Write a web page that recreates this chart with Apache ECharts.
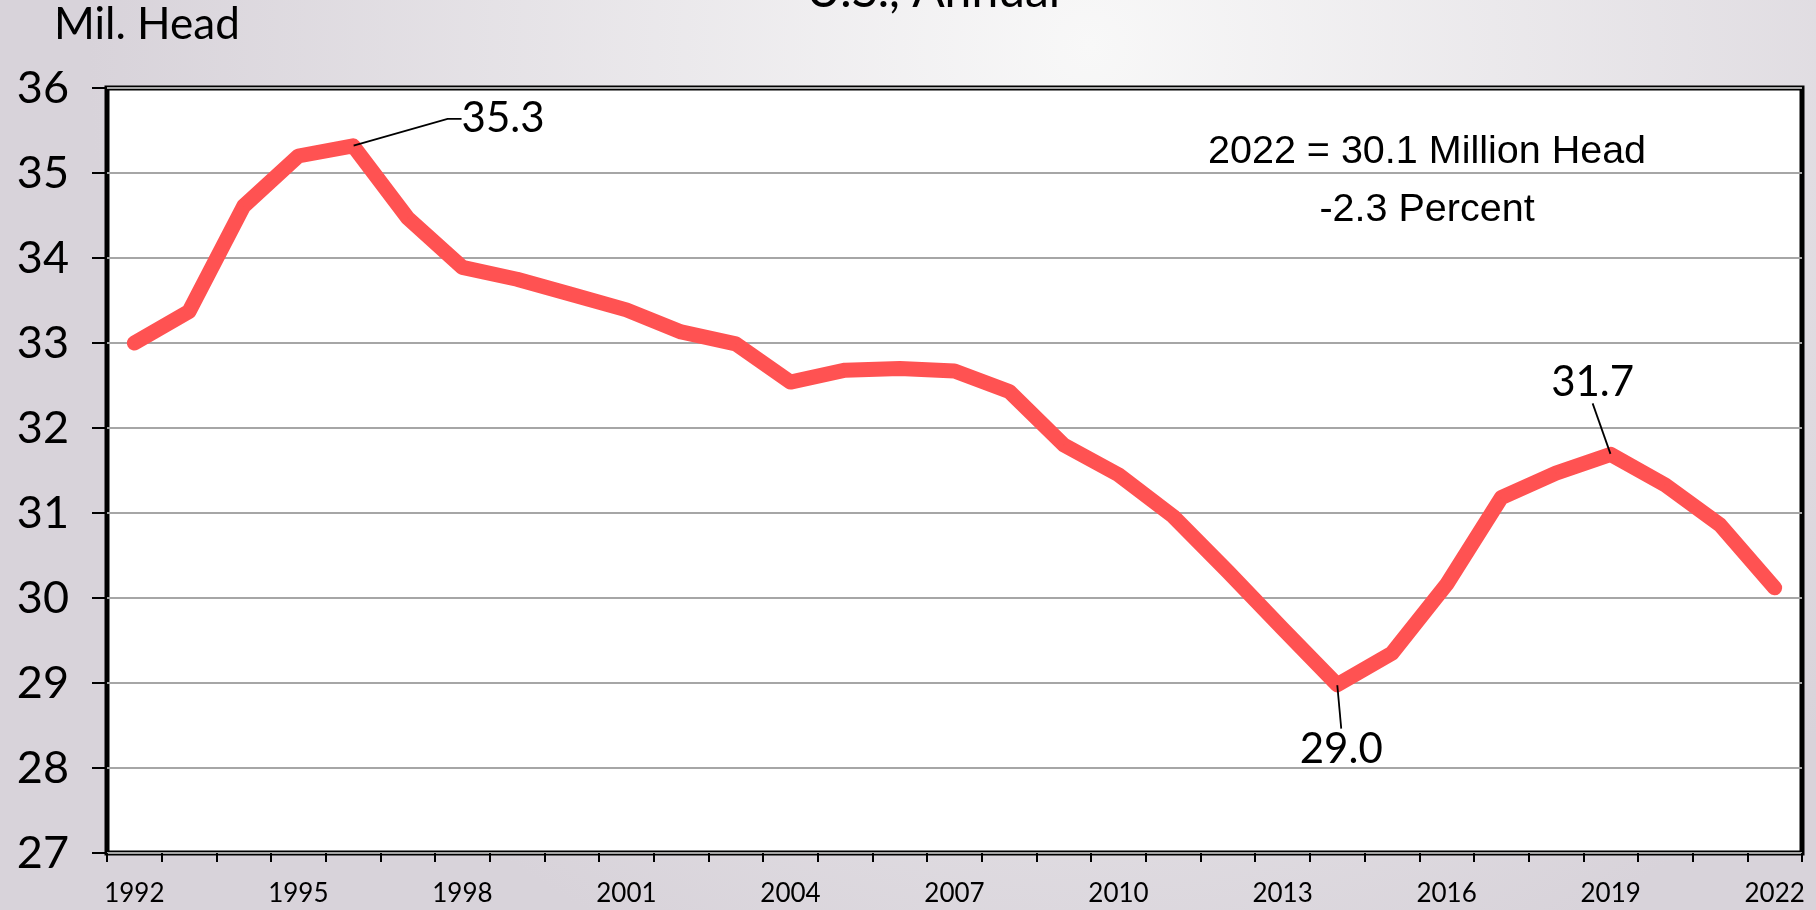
<!DOCTYPE html>
<html>
<head>
<meta charset="utf-8">
<title>Beef cows, U.S., Annual</title>
<script src="https://cdn.jsdelivr.net/npm/echarts@6/dist/echarts.min.js"></script>
<style>
  html, body { margin: 0; padding: 0; }
  #chart { width: 1816px; height: 910px; }
</style>
</head>
<body>
<div id="chart"></div>
<script>
// Jan 1 inventory, million head
const years = ['1992', '1993', '1994', '1995', '1996', '1997', '1998', '1999', '2000', '2001',
  '2002', '2003', '2004', '2005', '2006', '2007', '2008', '2009', '2010', '2011',
  '2012', '2013', '2014', '2015', '2016', '2017', '2018', '2019', '2020', '2021', '2022'];
const cows = [33.00, 33.37, 34.61, 35.20, 35.32, 34.47, 33.89, 33.75, 33.57, 33.39,
  33.13, 32.99, 32.54, 32.68, 32.70, 32.67, 32.43, 31.80, 31.45, 30.96,
  30.31, 29.64, 28.98, 29.35, 30.16, 31.18, 31.47, 31.69, 31.33, 30.86, 30.12];
const yTicks = [27, 28, 29, 30, 31, 32, 33, 34, 35, 36];
const calloutYears = ['1996', '2014', '2019'];
const noteLines = ['2022 = 30.1 Million Head', '-2.3 Percent'];

// where each callout label sits relative to its point
const calloutShift = {
  '1996': { dx: 150, dy: -27, len2: 14 },
  '2014': { dx: 4, dy: 65, len2: 0 },
  '2019': { dx: -18, dy: -72, len2: 0 }
};

const chart = echarts.init(document.getElementById('chart'));

const seriesData = cows.map((v, i) => {
  const yr = years[i];
  if (calloutYears.indexOf(yr) < 0) return v;
  return {
    value: v,
    label: { show: true },
    labelLine: { show: true, length2: calloutShift[yr].len2 }
  };
});

const option = {
  animation: false,
  backgroundColor: new echarts.graphic.RadialGradient(0.6, 0.05, 1.1, [
    { offset: 0, color: '#F8F8F8' },
    { offset: 1, color: '#D8D3DA' }
  ]),
  textStyle: { fontFamily: 'Lato' },
  grid: {
    left: 107, right: 14, top: 88, bottom: 57,
    show: true,
    backgroundColor: '#FFFFFF',
    borderColor: '#000000',
    borderWidth: 5
  },
  graphic: [
    {
      type: 'text', left: 806, top: -32,
      style: { text: 'U.S., Annual', font: '48px Lato', fill: '#000' }
    },
    {
      type: 'text', left: 54, top: 3,
      style: { text: 'Mil. Head', font: '44px Lato', fill: '#000' }
    },
    {
      type: 'group', left: 1208, top: 132,
      children: noteLines.map((t, i) => ({
        type: 'text', x: 218, y: i * 58,
        style: { text: t, font: '39.5px "Liberation Sans"', fill: '#000', textAlign: 'center' }
      }))
    }
  ],
  xAxis: {
    type: 'category',
    data: years,
    boundaryGap: true,
    axisLine: { show: false },
    axisTick: {
      show: true, interval: 0, length: 9,
      lineStyle: { color: '#000', width: 2 }
    },
    axisLabel: {
      interval: 2, margin: 28,
      fontSize: 26, color: '#000', fontFamily: 'Lato'
    },
    splitLine: { show: false }
  },
  yAxis: {
    type: 'value',
    min: yTicks[0],
    max: yTicks[yTicks.length - 1],
    interval: 1,
    axisLine: { show: false },
    axisTick: {
      show: true, length: 15,
      lineStyle: { color: '#000', width: 2 }
    },
    axisLabel: {
      margin: 38, fontSize: 45, color: '#000', fontFamily: 'Lato'
    },
    splitLine: { show: true, lineStyle: { color: '#A6A6A6', width: 2 } }
  },
  series: [{
    type: 'line',
    data: seriesData,
    showSymbol: true,
    showAllSymbol: true,
    symbol: 'circle',
    symbolSize: 1,
    itemStyle: { color: '#FF5252' },
    lineStyle: { color: '#FF5252', width: 15, cap: 'round', join: 'round' },
    label: {
      show: false,
      position: 'inside',
      fontSize: 42,
      fontFamily: 'Lato',
      color: '#000',
      padding: 6,
      formatter: p => p.value.toFixed(1)
    },
    labelLine: {
      show: false,
      lineStyle: { color: '#000', width: 1.8 }
    },
    labelLayout: p => {
      const s = calloutShift[years[p.dataIndex]];
      return s ? { dx: s.dx, dy: s.dy } : {};
    },
    emphasis: { disabled: true },
    z: 3
  }]
};

chart.setOption(option);
</script>
</body>
</html>
